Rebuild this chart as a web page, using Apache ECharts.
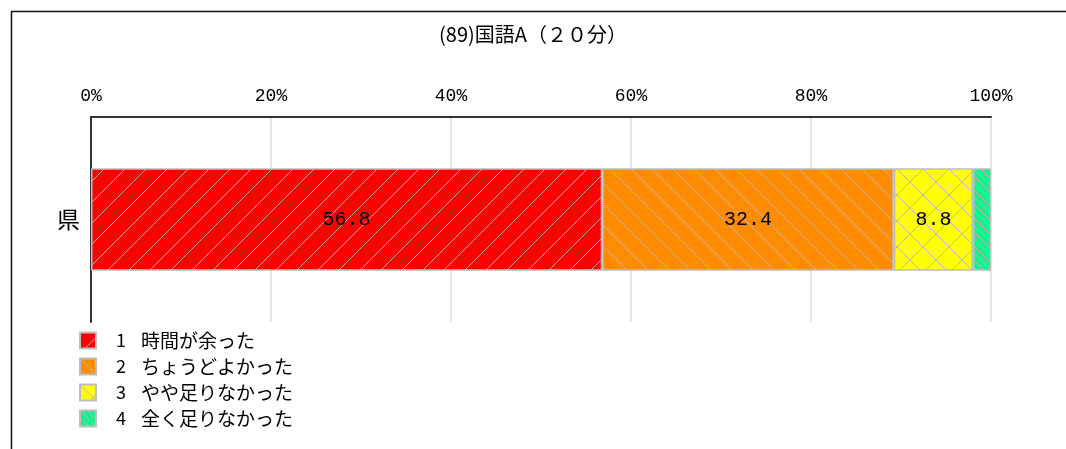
<!DOCTYPE html>
<html><head><meta charset="utf-8">
<script src="https://cdn.jsdelivr.net/npm/echarts@6/dist/echarts.min.js"></script>
<style>html,body{margin:0;padding:0;background:#fff}#c{width:1066px;height:449px}</style>
</head><body><div id="c"></div>
<script>
const titleText = '(89)国語A（２０分）';
const categories = ['県'];
const seriesNames = ['1 時間が余った', '2 ちょうどよかった', '3 やや足りなかった', '4 全く足りなかった'];
const values1 = [56.8];
const values2 = [32.4];
const values3 = [8.8];
const values4 = [2.0];
const tickLabels = ['0%', '20%', '40%', '60%', '80%', '100%'];

function makePattern(bg, kind, size) {
  const c = document.createElement('canvas');
  c.width = size; c.height = size;
  const g = c.getContext('2d');
  g.fillStyle = bg; g.fillRect(0, 0, size, size);
  g.strokeStyle = '#b8b8b8'; g.lineWidth = 1;
  const draw = (x1, y1, x2, y2) => { g.beginPath(); g.moveTo(x1, y1); g.lineTo(x2, y2); g.stroke(); };
  for (const dx of [-size, 0, size]) {
    if (kind.indexOf('/') >= 0) draw(dx, size, dx + size, 0);
    if (kind.indexOf('\\') >= 0) draw(dx, 0, dx + size, size);
  }
  return { image: c, repeat: 'repeat' };
}

const colors = [
  makePattern('#ff0000', '/', 21),
  makePattern('#ff8c00', '\\', 21),
  makePattern('#ffff00', '/\\', 26),
  makePattern('#14f08e', '\\', 7)
];
const valueSets = [values1, values2, values3, values4];

const chart = echarts.init(document.getElementById('c'));
chart.setOption({
  animation: false,
  title: {
    text: titleText, left: 'center', top: 19,
    textStyle: { fontSize: 20, fontWeight: 'normal', color: '#000', fontFamily: 'Noto Sans CJK JP' }
  },
  graphic: [{
    type: 'polyline', silent: true,
    shape: { points: [[11.5, 449], [11.5, 11.5], [1066, 11.5]] },
    style: { stroke: '#111', lineWidth: 1.5, fill: null }
  }],
  grid: { left: 91, right: 75, top: 117, bottom: 127 },
  legend: {
    orient: 'vertical', left: 79, top: 331, itemWidth: 16, itemHeight: 16, itemGap: 7,
    padding: 0, icon: 'rect',
    data: seriesNames,
    formatter: n => {
      const k = n.indexOf(' ');
      return '{n|' + n.slice(0, k + 1) + '}{t|' + n.slice(k + 1) + '}';
    },
    textStyle: {
      color: '#000', fontFamily: 'Noto Sans CJK JP', padding: [0, 0, 0, 15],
      rich: {
        n: { width: 25, fontSize: 18, lineHeight: 16, fontFamily: 'Noto Sans CJK JP', color: '#000' },
        t: { fontSize: 19, lineHeight: 16, fontFamily: 'Noto Sans CJK JP', color: '#000' }
      }
    }
  },
  xAxis: {
    type: 'value', position: 'top', min: 0, max: 100, interval: 20,
    axisLine: { show: true, lineStyle: { color: '#333', width: 2 } },
    axisTick: { show: false },
    splitLine: { show: true, lineStyle: { color: '#dcdcdc', width: 1.5 } },
    axisLabel: {
      margin: 12, fontSize: 18, color: '#000', fontFamily: 'Liberation Mono',
      formatter: v => tickLabels[Math.round(v / 20)]
    }
  },
  yAxis: {
    type: 'category', data: categories,
    axisLine: { show: true, lineStyle: { color: '#333', width: 2 } },
    axisTick: { show: false },
    axisLabel: { margin: 11, fontSize: 23, color: '#000', fontFamily: 'Noto Sans CJK JP' }
  },
  series: seriesNames.map((n, i) => ({
    name: n, type: 'bar', stack: 'a', barWidth: '50%',
    data: valueSets[i],
    itemStyle: { color: colors[i], borderColor: '#bdbdbd', borderWidth: 1.5 },
    label: {
      show: i < 3, position: 'inside', formatter: '{c}',
      fontSize: 20, color: '#000', fontFamily: 'Liberation Mono'
    }
  }))
});
</script></body></html>
